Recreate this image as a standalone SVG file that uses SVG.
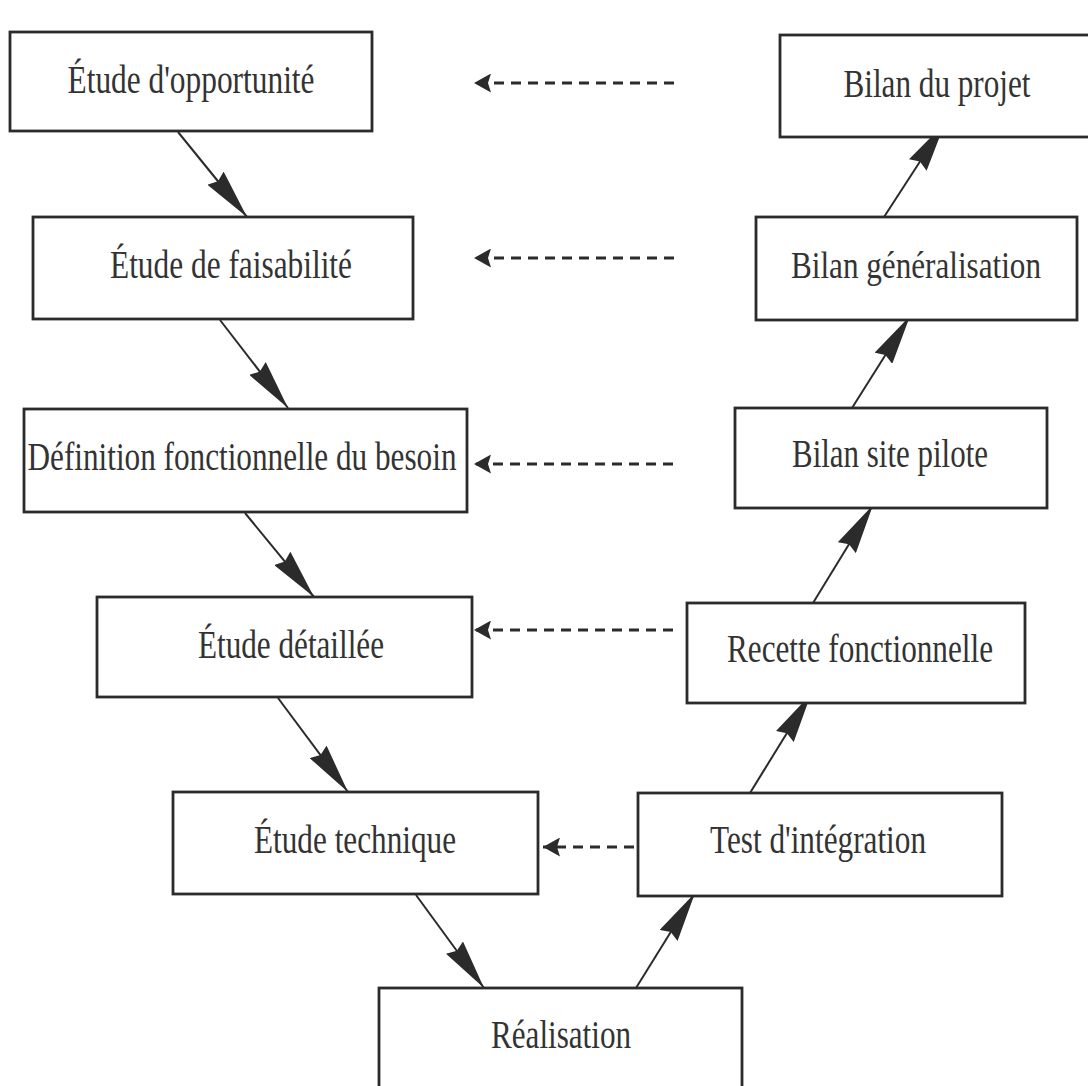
<svg xmlns="http://www.w3.org/2000/svg" width="1088" height="1086" viewBox="0 0 1088 1086">
<style>
.box{fill:#ffffff;stroke:#2b2b2b;stroke-width:2.8}
.lbl{font-family:"Liberation Serif","Times New Roman",serif;font-size:40px;fill:#333333;text-anchor:middle}
.solid{stroke:#2b2b2b;stroke-width:2;fill:none}
.dash{stroke:#2b2b2b;stroke-width:3;fill:none;stroke-dasharray:10 7}
</style>
<defs>
<marker id="ah" markerUnits="userSpaceOnUse" markerWidth="50" markerHeight="21" viewBox="0 0 50 21" refX="50" refY="10.5" orient="auto">
<path d="M0,0 L50,10.5 L0,21 L4,10.5 z" fill="#2b2b2b"/>
</marker>
<marker id="dh" markerUnits="userSpaceOnUse" markerWidth="17" markerHeight="19" viewBox="0 0 17 19" refX="17" refY="9.5" orient="auto">
<path d="M0,0 L17,9.5 L0,19 L3,9.5 z" fill="#2b2b2b"/>
</marker>
</defs>
<rect width="1088" height="1086" fill="#ffffff"/>
<g id="connectors">
<line class="solid" x1="178" y1="132" x2="247" y2="217" marker-end="url(#ah)"/>
<line class="solid" x1="220" y1="320" x2="288" y2="408" marker-end="url(#ah)"/>
<line class="solid" x1="245" y1="513" x2="314" y2="597" marker-end="url(#ah)"/>
<line class="solid" x1="278" y1="698" x2="348" y2="792" marker-end="url(#ah)"/>
<line class="solid" x1="416" y1="895" x2="484" y2="988" marker-end="url(#ah)"/>
<line class="solid" x1="636" y1="988" x2="695" y2="893" marker-end="url(#ah)"/>
<line class="solid" x1="750" y1="793" x2="811" y2="694" marker-end="url(#ah)"/>
<line class="solid" x1="813" y1="603" x2="873" y2="505" marker-end="url(#ah)"/>
<line class="solid" x1="852" y1="408" x2="910" y2="316" marker-end="url(#ah)"/>
<line class="solid" x1="884" y1="217" x2="945" y2="123" marker-end="url(#ah)"/>
<line class="dash" x1="674" y1="83" x2="474" y2="83" marker-end="url(#dh)"/>
<line class="dash" x1="674" y1="258" x2="474" y2="258" marker-end="url(#dh)"/>
<line class="dash" x1="673" y1="464" x2="474" y2="464" marker-end="url(#dh)"/>
<line class="dash" x1="673" y1="630" x2="474" y2="630" marker-end="url(#dh)"/>
<line class="dash" x1="634" y1="847" x2="543" y2="847" marker-end="url(#dh)"/>
</g>
<g id="n1"><rect class="box" x="10" y="32" width="362" height="99"/><text class="lbl" x="191" y="93" textLength="247" lengthAdjust="spacingAndGlyphs">Étude d'opportunité</text></g>
<g id="n2"><rect class="box" x="33" y="217" width="380" height="102"/><text class="lbl" x="231" y="278" textLength="242" lengthAdjust="spacingAndGlyphs">Étude de faisabilité</text></g>
<g id="n3"><rect class="box" x="24" y="409" width="443" height="103"/><text class="lbl" x="242" y="470" textLength="429" lengthAdjust="spacingAndGlyphs">Définition fonctionnelle du besoin</text></g>
<g id="n4"><rect class="box" x="97" y="597" width="375" height="100"/><text class="lbl" x="291" y="658" textLength="186" lengthAdjust="spacingAndGlyphs">Étude détaillée</text></g>
<g id="n5"><rect class="box" x="173" y="792" width="365" height="102"/><text class="lbl" x="355" y="853" textLength="202" lengthAdjust="spacingAndGlyphs">Étude technique</text></g>
<g id="n6"><rect class="box" x="379" y="988" width="363" height="110"/><text class="lbl" x="561" y="1048" textLength="140" lengthAdjust="spacingAndGlyphs">Réalisation</text></g>
<g id="n7"><rect class="box" x="638" y="793" width="364" height="103"/><text class="lbl" x="818" y="853" textLength="216" lengthAdjust="spacingAndGlyphs">Test d'intégration</text></g>
<g id="n8"><rect class="box" x="687" y="603" width="338" height="100"/><text class="lbl" x="860" y="662" textLength="266" lengthAdjust="spacingAndGlyphs">Recette fonctionnelle</text></g>
<g id="n9"><rect class="box" x="735" y="408" width="312" height="100"/><text class="lbl" x="890" y="467" textLength="196" lengthAdjust="spacingAndGlyphs">Bilan site pilote</text></g>
<g id="n10"><rect class="box" x="756" y="217" width="321" height="103"/><text class="lbl" x="916" y="278" style="font-size:38.5px" textLength="250" lengthAdjust="spacingAndGlyphs">Bilan généralisation</text></g>
<g id="n11"><rect class="box" x="780" y="35" width="320" height="102"/><text class="lbl" x="937" y="97" textLength="187" lengthAdjust="spacingAndGlyphs">Bilan du projet</text></g>
</svg>
